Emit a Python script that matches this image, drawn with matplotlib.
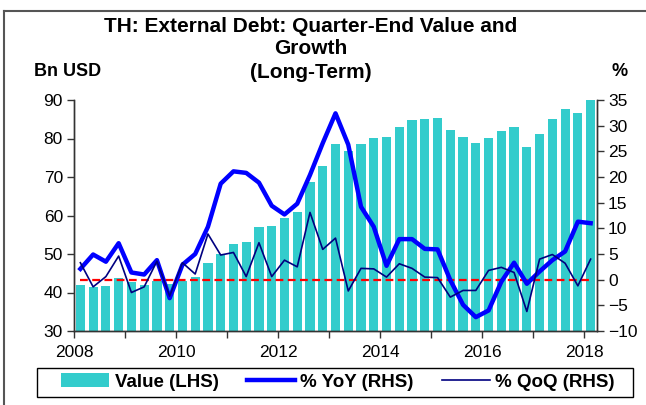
import matplotlib
matplotlib.use("Agg")
from matplotlib import pyplot as plt
from matplotlib.lines import Line2D
from matplotlib.patches import Rectangle
import numpy as np

plt.rcParams['font.family'] = ['Liberation Sans', 'DejaVu Sans']

# quarterly data, 2008 Q1 .. 2018 Q1
value = [42.0, 41.4, 41.8, 43.8, 42.6, 41.9, 43.0, 42.3, 43.0, 44.0,
         47.7, 49.9, 52.7, 53.0, 56.9, 57.2, 59.4, 60.8, 68.7, 72.8,
         78.6, 76.8, 78.5, 80.2, 80.4, 82.9, 84.7, 85.0, 85.2, 82.3,
         80.4, 78.8, 80.1, 81.9, 83.1, 77.9, 81.2, 85.1, 87.7, 86.7, 90.1]
yoy = [2.1, 4.9, 3.5, 7.1, 1.4, 1.0, 3.8, -3.6, 2.9, 5.0,
       10.3, 18.7, 21.1, 20.8, 18.9, 14.4, 12.7, 14.8, 20.4, 26.6,
       32.4, 26.3, 14.2, 10.3, 2.7, 7.9, 7.9, 6.0, 5.9, -0.1,
       -4.9, -7.3, -6.0, -0.4, 3.3, -0.8, 1.6, 3.8, 5.5, 11.3, 11.0]
qoq = [3.3, -1.4, 0.6, 4.6, -2.5, -1.4, 3.6, -3.2, 3.3, 1.1,
       8.9, 4.8, 5.3, 0.6, 7.2, 0.6, 3.8, 2.5, 13.1, 5.9,
       8.1, -2.2, 2.2, 2.1, 0.5, 3.1, 2.2, 0.5, 0.4, -3.4,
       -2.1, -2.1, 1.8, 2.4, 1.4, -6.2, 4.0, 4.9, 3.2, -1.2, 4.0]
years = [2008, 2010, 2012, 2014, 2016, 2018]
title_lines = ['TH: External Debt: Quarter-End Value and', 'Growth', '(Long-Term)']

n = len(value)
x = 2008 + 0.25 * (np.arange(n) + 0.5)

fig = plt.figure(figsize=(6.46, 4.05), dpi=100)
ax1 = fig.add_axes([74/646, 1 - 331/405, (597-74)/646, (331-100)/405])
ax2 = ax1.twinx()

bars = ax1.bar(x, value, width=0.25*0.72, color='#33CCCC', label='Value (LHS)', zorder=1)
ax2.plot(x, np.zeros(n), color='red', lw=1.6, dashes=(3.5, 2))
l1, = ax2.plot(x, yoy, color='#0000FF', lw=3.2, label='% YoY (RHS)', solid_joinstyle='round')
l2, = ax2.plot(x, qoq, color='#000080', lw=1.2, label='% QoQ (RHS)')

ax1.set_xlim(2008, 2018.25)
ax1.set_ylim(30, 90)
ax2.set_ylim(-10, 35)
ax1.set_yticks(range(30, 91, 10))
ax2.set_yticks(range(-10, 36, 5))
ax1.set_xticks(years)
ax1.set_xticks(range(2008, 2019), minor=True)

for ax in (ax1, ax2):
    ax.spines['top'].set_visible(False)
    for s in ax.spines.values():
        s.set_color('#333333')
        s.set_linewidth(1.0)
ax1.tick_params(axis='both', which='both', direction='out', length=5, width=1,
                color='#333333', labelsize=12.5, pad=3)
ax1.tick_params(axis='x', pad=5)
ax2.tick_params(axis='y', direction='out', length=5, width=1, color='#333333',
                labelsize=12.5, pad=3)

# title, one line at a time
for txt, yp in zip(title_lines, [26, 49, 72]):
    fig.text(311/646, 1 - yp/405, txt, ha='center', va='center',
             fontsize=15, fontweight='bold')
fig.text(34/646, 1 - 72/405, 'Bn USD', ha='left', va='center', fontsize=13, fontweight='bold')
fig.text(620/646, 1 - 72/405, '%', ha='center', va='center', fontsize=13, fontweight='bold')

# legend box
fig.add_artist(Rectangle((37/646, 1 - 397/405), 596/646, 29/405, transform=fig.transFigure,
                         facecolor='white', edgecolor='black', lw=1.0))
leg = fig.legend(handles=[bars, l1, l2], loc='center', ncol=3,
                 bbox_to_anchor=(338/646, 1 - 382/405),
                 frameon=False, prop={'weight': 'bold', 'size': 13.5},
                 handlelength=2.55, handletextpad=0.3, columnspacing=1.5,
                 borderaxespad=0, borderpad=0)

# outer frame
fig.add_artist(Line2D([3.5/646, 3.5/646], [0, 1 - 11/405], color='#555555', lw=1.5,
                      transform=fig.transFigure))
fig.add_artist(Line2D([3.5/646, 1], [1 - 11/405, 1 - 11/405], color='#555555', lw=1.5,
                      transform=fig.transFigure))

fig.savefig('out.png', dpi=100)
